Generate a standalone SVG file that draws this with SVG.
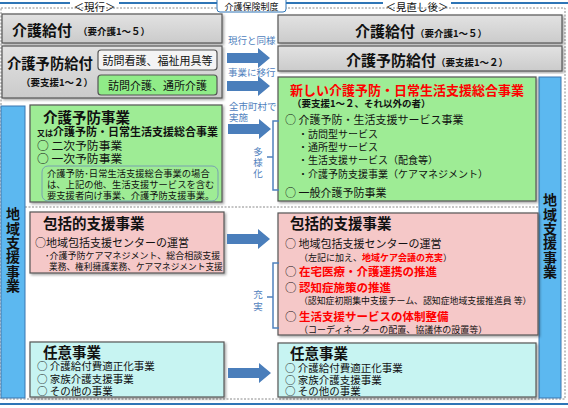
<svg xmlns="http://www.w3.org/2000/svg" width="568" height="408" viewBox="0 0 568 408">
<defs>
<linearGradient id="gGray" x1="0" y1="0" x2="0" y2="1">
<stop offset="0" stop-color="#e2e2e2"/><stop offset="1" stop-color="#cbcbcb"/>
</linearGradient>
<filter id="sh" x="-5%" y="-5%" width="110%" height="115%">
<feDropShadow dx="1.5" dy="1.5" stdDeviation="0.8" flood-color="#000" flood-opacity="0.35"/>
</filter>
<path id="arr" d="M0,-5 H31 V-10 L43,0 L31,10 V5 H0 Z"/>
</defs>
<style>
text{font-family:"Noto Sans CJK JP","Noto Sans CJK SC",sans-serif;fill:#111}
.ti{font-weight:700;font-size:14.5px}
.b{font-weight:700}
.red{fill:#ff0000}
.lbl{fill:#4f81bd;font-size:9.5px}
.vt{writing-mode:vertical-rl;text-anchor:middle}
.gray{fill:url(#gGray);stroke:#555;stroke-width:1.2;filter:url(#sh)}
.green{fill:#9eec95;stroke:#555;stroke-width:1.2;filter:url(#sh)}
.pink{fill:#f5c8c8;stroke:#555;stroke-width:1.2;filter:url(#sh)}
.cyan{fill:#c7f4f2;stroke:#555;stroke-width:1.2;filter:url(#sh)}
.bar{fill:#5cb8f0;stroke:#3b77b0;stroke-width:1}
.dash{fill:none;stroke:#8a8a8a;stroke-width:1;stroke-dasharray:2 1.5}
.blue{stroke:#2e75b6;stroke-width:2}
.brk{fill:none;stroke:#4f81bd;stroke-width:1.5}
.arrow{fill:#4a7ebb}
</style>

<g id="frame">
<rect class="dash" x="1" y="8" width="564" height="391"/>
<line class="blue" x1="0" y1="3" x2="70" y2="3"/>
<line class="blue" x1="119" y1="3" x2="218" y2="3"/>
<line class="blue" x1="286" y1="3" x2="383" y2="3"/>
<line class="blue" x1="451" y1="3" x2="568" y2="3"/>
<line class="blue" x1="0" y1="404" x2="568" y2="404"/>
<path d="M217,-2 V9 Q217,12 220,12 H283 Q286,12 286,9 V-2" fill="#fff" stroke="#2e75b6" stroke-width="1"/>
<text x="251.5" y="10" font-size="9" text-anchor="middle" fill="#333">介護保険制度</text>
<text x="94.5" y="10.5" font-size="10.5" text-anchor="middle" fill="#444">＜現行＞</text>
<text x="417" y="10.5" font-size="10.5" text-anchor="middle" fill="#444">＜見直し後＞</text>
<line class="dash" x1="25" y1="207" x2="539" y2="207"/>
</g>

<g id="left-kaigo-kyufu">
<rect class="gray" x="2" y="14" width="220" height="29"/>
<text x="12" y="36" class="b" font-size="15">介護給付</text>
<text x="78" y="35" class="b" font-size="9.5">（要介護1～５）</text>
</g>

<g id="left-yobo-kyufu">
<rect class="gray" x="2" y="46" width="220" height="52"/>
<text x="7" y="69" class="b" font-size="14.3">介護予防給付</text>
<text x="21" y="86" class="b" font-size="9.5">（要支援1～２）</text>
<rect x="98" y="50" width="119" height="20" rx="3" fill="#f4f4f4" stroke="#555" stroke-width="1.2"/>
<text x="157.5" y="64.5" font-size="11" text-anchor="middle">訪問看護、福祉用具等</text>
<rect x="98" y="75" width="119" height="20" rx="3" fill="#90ec88" stroke="#555" stroke-width="1.2"/>
<text x="157.5" y="89.5" font-size="11" text-anchor="middle">訪問介護、通所介護</text>
</g>

<g id="left-bar">
<rect class="bar" x="1" y="106" width="24" height="292"/>
<text class="b vt" x="13" y="250" font-size="14" letter-spacing="0.4">地域支援事業</text>
</g>

<g id="left-yobo-jigyo">
<rect class="green" x="30" y="105" width="192" height="97"/>
<text x="43" y="123" class="ti">介護予防事業</text>
<text x="37" y="135.5" class="b" font-size="11"><tspan font-size="8">又は</tspan>介護予防・日常生活支援総合事業</text>
<text x="37" y="150" font-size="11.8">○ 二次予防事業</text>
<text x="37" y="163" font-size="11.8">○ 一次予防事業</text>
<rect x="42" y="166" width="176" height="35" rx="6" fill="none" stroke="#6f8fb8" stroke-width="0.8"/>
<text x="47" y="176.5" font-size="9.3">介護予防･日常生活支援総合事業の場合</text>
<text x="47" y="187.5" font-size="9.3">は、上記の他、生活支援サービスを含む</text>
<text x="47" y="198.5" font-size="9.3">要支援者向け事業、介護予防支援事業。</text>
</g>

<g id="left-hokatsu">
<rect class="pink" x="30" y="212" width="194" height="61"/>
<text x="43" y="229" class="ti">包括的支援事業</text>
<text x="35" y="247" font-size="11">○地域包括支援センターの運営</text>
<text x="45" y="258.5" font-size="9">･介護予防ケアマネジメント、総合相談支援</text>
<text x="49" y="270" font-size="8.7">業務、権利擁護業務、ケアマネジメント支援</text>
</g>

<g id="left-nini">
<rect class="cyan" x="30" y="342" width="194" height="55"/>
<text x="43" y="358" class="ti">任意事業</text>
<text x="37" y="370" font-size="10.5">○ 介護給付費適正化事業</text>
<text x="37" y="382.5" font-size="10.5">○ 家族介護支援事業</text>
<text x="37" y="394.5" font-size="10.5">○ その他の事業</text>
</g>

<g id="right-kaigo-kyufu">
<rect class="gray" x="278" y="15" width="284" height="28"/>
<text x="355" y="37" class="b" font-size="15">介護給付<tspan font-size="9.5">（要介護1～５）</tspan></text>
</g>

<g id="right-yobo-kyufu">
<rect class="gray" x="278" y="46" width="284" height="25"/>
<text x="346" y="65.5" class="b" font-size="15">介護予防給付<tspan font-size="9.5">（要支援1～２）</tspan></text>
</g>

<g id="right-bar">
<rect class="bar" x="539" y="77" width="22" height="321"/>
<text class="b vt" x="550" y="236" font-size="14" letter-spacing="0.4">地域支援事業</text>
</g>

<g id="right-sogo-jigyo">
<rect class="green" x="278" y="77" width="258" height="124"/>
<text x="290" y="95" class="b red" font-size="13">新しい介護予防・日常生活支援総合事業</text>
<text x="292" y="107" class="b" font-size="9.5">（要支援1～２、それ以外の者）</text>
<text x="285" y="124" font-size="11">○ 介護予防・生活支援サービス事業</text>
<text x="298" y="137.5" font-size="10">・訪問型サービス</text>
<text x="298" y="151" font-size="10">・通所型サービス</text>
<text x="298" y="164" font-size="10">・生活支援サービス（配食等）</text>
<text x="298" y="177.5" font-size="10">・介護予防支援事業（ケアマネジメント）</text>
<text x="285" y="197" font-size="11">○ 一般介護予防事業</text>
</g>

<g id="right-hokatsu">
<rect class="pink" x="278" y="213" width="260" height="122"/>
<text x="290" y="229" class="ti">包括的支援事業</text>
<text x="285" y="248" font-size="11">○ 地域包括支援センターの運営</text>
<text x="299" y="260.5" font-size="9">（左記に加え、<tspan class="b red">地域ケア会議の充実</tspan>）</text>
<text x="285" y="276" font-size="11.5">○ <tspan class="b red">在宅医療・介護連携の推進</tspan></text>
<text x="285" y="292" font-size="11.5">○ <tspan class="b red">認知症施策の推進</tspan></text>
<text x="299" y="304" font-size="8.9">（認知症初期集中支援チーム、認知症地域支援推進員 等）</text>
<text x="285" y="321" font-size="11.5">○ <tspan class="b red">生活支援サービスの体制整備</tspan></text>
<text x="299" y="333" font-size="9">（コーディネーターの配置、協議体の設置等）</text>
</g>

<g id="right-nini">
<rect class="cyan" x="278" y="343" width="258" height="54"/>
<text x="290" y="359" class="ti">任意事業</text>
<text x="285" y="371.5" font-size="10.5">○ 介護給付費適正化事業</text>
<text x="285" y="383.5" font-size="10.5">○ 家族介護支援事業</text>
<text x="285" y="395" font-size="10.5">○ その他の事業</text>
</g>

<g id="connectors">
<text x="228" y="44" class="lbl">現行と同様</text>
<use href="#arr" class="arrow" transform="translate(227,58)"/>
<text x="228" y="76" class="lbl">事業に移行</text>
<use href="#arr" class="arrow" transform="translate(227,86)"/>
<text x="229" y="110" class="lbl" font-size="9">全市町村で</text>
<text x="229" y="121" class="lbl" font-size="9">実施</text>
<use href="#arr" class="arrow" transform="translate(228,129)"/>
<use href="#arr" class="arrow" transform="translate(227,239)"/>
<use href="#arr" class="arrow" transform="translate(228,373)"/>
<path class="brk" d="M279,121 H273 V190 H279 M273,157 H267"/>
<text class="lbl vt" x="258" y="163" font-size="13" letter-spacing="1.5">多様化</text>
<path class="brk" d="M279,263 H273 V328 H279 M273,297 H267"/>
<text class="lbl vt" x="258" y="302" font-size="12" letter-spacing="2.5">充実</text>
</g>
</svg>
